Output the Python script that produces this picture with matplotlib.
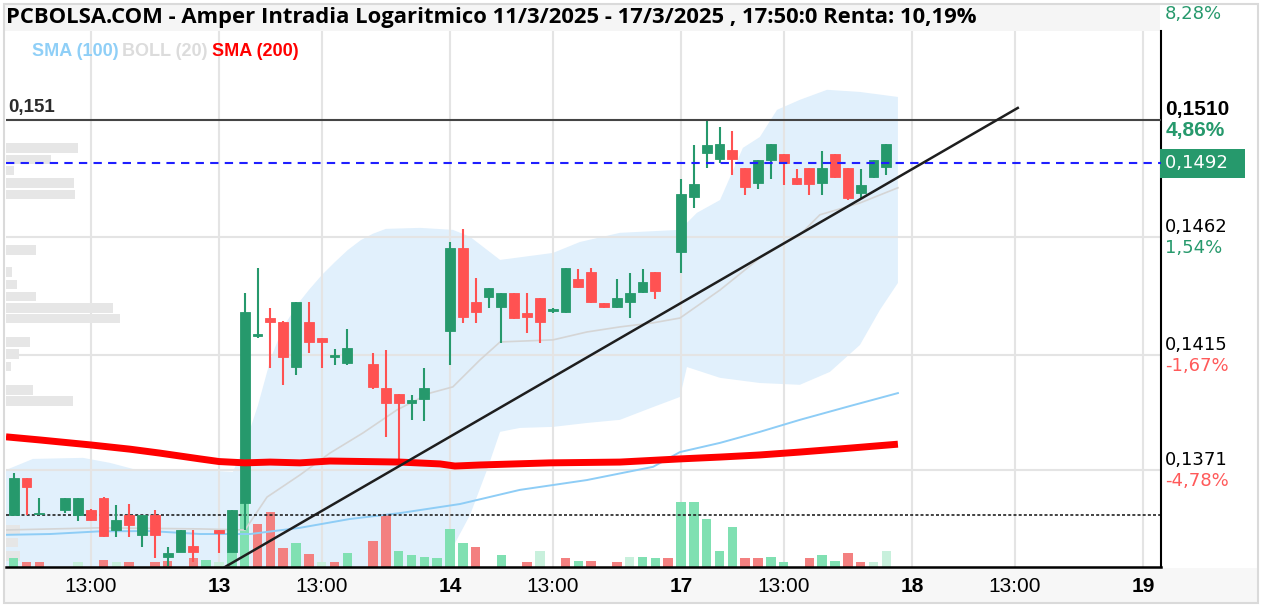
import matplotlib
matplotlib.use("Agg")
import numpy as np
import matplotlib.pyplot as plt
from matplotlib.patches import Rectangle
from matplotlib.ticker import NullLocator
from matplotlib.transforms import blended_transform_factory

# session axis: each trading day takes 9 hours (9:00-18:00), weekend skipped
days = ["12", "13", "14", "17", "18", "19"]

title = "PCBOLSA.COM - Amper Intradia Logaritmico 11/3/2025 - 17/3/2025 , 17:50:0 Renta: 10,19%"

# 30 min candles
candle_time = [
    "12 10:00", "12 10:30", "12 11:00", "12 12:00", "12 12:30", "12 13:00", "12 13:30",
    "12 14:00", "12 14:30", "12 15:00", "12 15:30", "12 16:00", "12 16:30", "12 17:00",
    "13 09:00", "13 09:30", "13 10:00", "13 10:30", "13 11:00", "13 11:30", "13 12:00",
    "13 12:30", "13 13:00", "13 13:30", "13 14:00", "13 15:00", "13 15:30", "13 16:00",
    "13 16:30", "13 17:00",
    "14 09:00", "14 09:30", "14 10:00", "14 10:30", "14 11:00", "14 11:30", "14 12:00",
    "14 12:30", "14 13:00", "14 13:30", "14 14:00", "14 14:30", "14 15:00", "14 15:30",
    "14 16:00", "14 16:30", "14 17:00",
    "17 09:00", "17 09:30", "17 10:00", "17 10:30", "17 11:00", "17 11:30", "17 12:00",
    "17 12:30", "17 13:00", "17 13:30", "17 14:00", "17 14:30", "17 15:00", "17 15:30",
    "17 16:00", "17 16:30", "17 17:00",
]
c_open = [
    0.13541, 0.13678, 0.13545, 0.13560, 0.13541, 0.13560, 0.13603, 0.13485, 0.13541, 0.13467,
    0.13541, 0.13385, 0.13404, 0.13426,
    0.13485, 0.13404, 0.13586, 0.14227, 0.14297, 0.14283, 0.14107, 0.14283, 0.14218, 0.14144,
    0.14120, 0.14117, 0.14023, 0.13999, 0.13967, 0.13980,
    0.14244, 0.14575, 0.14362, 0.14379, 0.14340, 0.14397, 0.14318, 0.14375, 0.14325, 0.14322,
    0.14452, 0.14481, 0.14358, 0.14340, 0.14362, 0.14401, 0.14481,
    0.14561, 0.14781, 0.14962, 0.14937, 0.14975, 0.14900, 0.14839, 0.14934, 0.14959, 0.14859,
    0.14900, 0.14839, 0.14959, 0.14900, 0.14798, 0.14863, 0.14904,
]
c_high = [
    0.13700, 0.13680, 0.13605, 0.13605, 0.13605, 0.13563, 0.13608, 0.13578, 0.13582, 0.13541,
    0.13560, 0.13422, 0.13485, 0.13485,
    0.13485, 0.13560, 0.14397, 0.14495, 0.14337, 0.14285, 0.14362, 0.14362, 0.14219, 0.14175,
    0.14253, 0.14161, 0.14173, 0.14001, 0.13997, 0.14100,
    0.14598, 0.14652, 0.14455, 0.14416, 0.14397, 0.14397, 0.14395, 0.14376, 0.14337, 0.14496,
    0.14491, 0.14495, 0.14358, 0.14452, 0.14477, 0.14491, 0.14481,
    0.14855, 0.14996, 0.15100, 0.15072, 0.15056, 0.14900, 0.14934, 0.15000, 0.14959, 0.14896,
    0.14900, 0.14973, 0.14959, 0.14900, 0.14896, 0.14934, 0.15000,
]
c_low = [
    0.13541, 0.13541, 0.13541, 0.13550, 0.13520, 0.13518, 0.13459, 0.13459, 0.13459, 0.13422,
    0.13381, 0.13352, 0.13403, 0.13366,
    0.13400, 0.13403, 0.13485, 0.14218, 0.14102, 0.14036, 0.14074, 0.14161, 0.14102, 0.14113,
    0.14113, 0.14020, 0.13837, 0.13736, 0.13901, 0.13898,
    0.14113, 0.14279, 0.14279, 0.14336, 0.14198, 0.14294, 0.14240, 0.14200, 0.14318, 0.14317,
    0.14416, 0.14357, 0.14337, 0.14337, 0.14296, 0.14395, 0.14371,
    0.14477, 0.14737, 0.14900, 0.14921, 0.14873, 0.14791, 0.14815, 0.14855, 0.14832, 0.14832,
    0.14791, 0.14791, 0.14861, 0.14770, 0.14777, 0.14861, 0.14873,
]
c_close = [
    0.13681, 0.13647, 0.13549, 0.13603, 0.13603, 0.13522, 0.13463, 0.13522, 0.13504, 0.13541,
    0.13467, 0.13400, 0.13485, 0.13404,
    0.13475, 0.13560, 0.14322, 0.14234, 0.14282, 0.14143, 0.14362, 0.14204, 0.14204, 0.14152,
    0.14178, 0.14027, 0.13965, 0.13965, 0.13977, 0.14023,
    0.14575, 0.14300, 0.14322, 0.14415, 0.14397, 0.14296, 0.14300, 0.14283, 0.14333, 0.14495,
    0.14419, 0.14362, 0.14340, 0.14375, 0.14397, 0.14441, 0.14405,
    0.14795, 0.14835, 0.14996, 0.15000, 0.14937, 0.14822, 0.14934, 0.15000, 0.14921, 0.14836,
    0.14836, 0.14900, 0.14863, 0.14777, 0.14832, 0.14934, 0.15000,
]

# volume (thousands of shares), g = up, r = down, p = flat
vol_time = [
    "12 10:00", "12 10:30", "12 11:00", "12 12:30", "12 13:30", "12 14:00", "12 14:30",
    "12 15:30", "12 16:00", "12 17:00", "12 17:30",
    "13 09:00", "13 09:30", "13 10:00", "13 10:30", "13 11:00", "13 11:30", "13 12:00",
    "13 12:30", "13 13:00", "13 13:30", "13 14:00", "13 15:00", "13 15:30", "13 16:00",
    "13 16:30", "13 17:00", "13 17:30",
    "14 09:00", "14 09:30", "14 10:00", "14 11:00", "14 12:00", "14 12:30", "14 13:30",
    "14 14:00", "14 14:30", "14 15:30", "14 16:00", "14 16:30", "14 17:00", "14 17:30",
    "17 09:00", "17 09:30", "17 10:00", "17 10:30", "17 11:00", "17 11:30", "17 12:00",
    "17 12:30", "17 13:00", "17 14:00", "17 14:30", "17 15:00", "17 15:30", "17 16:00",
    "17 16:30", "17 17:00",
]
vol = [
    186, 106, 106, 106, 140, 106, 106, 106, 120, 174, 140,
    106, 300, 1280, 854, 1094, 374, 474, 254, 106, 106, 274, 520, 1060, 320, 240, 206, 174,
    760, 474, 406, 240, 94, 320, 174, 126, 126, 94, 206, 206, 174, 174,
    1294, 1294, 960, 320, 806, 174, 174, 206, 94, 174, 240, 126, 286, 94, 94, 326,
]
vol_kind = list("grrprprrrrg" "pggrrrgrprgrrggggg" "grgrprgrrpggrg" "ggggrrggrggrrppg")

# indicators (x in session hours from 12/3 09:00)
sma200_x = [0.70, 2.03, 4.01, 5.53, 6.70, 8.26, 9.0, 10.01, 10.99, 12.15, 13.32, 16.05,
            17.61, 18.19, 19.17, 21.89, 24.62, 26.96, 28.52, 30.07, 31.63, 33.58, 35.45]
sma200 = [0.13836, 0.13824, 0.13805, 0.13789, 0.13774, 0.13752, 0.13742, 0.13737, 0.13740,
          0.13737, 0.13744, 0.13740, 0.13733, 0.13725, 0.13729, 0.13737, 0.13740, 0.13752,
          0.13759, 0.13767, 0.13778, 0.13793, 0.13808]
sma100_x = [0.70, 2.42, 4.36, 6.31, 8.26, 10.21, 12.15, 14.10, 16.05, 18.39, 20.72, 23.33,
            25.91, 26.96, 28.52, 30.07, 31.63, 33.58, 35.45]
sma100 = [0.13467, 0.13470, 0.13480, 0.13481, 0.13470, 0.13470, 0.13493, 0.13526, 0.13548,
          0.13582, 0.13635, 0.13672, 0.13722, 0.13778, 0.13813, 0.13855, 0.13901, 0.13954,
          0.14004]
boll_up_x = [0.70, 1.75, 3.70, 4.75, 5.65, 6.97, 8.92, 9.54, 10.01, 10.52, 11.02, 11.49,
             12.04, 12.50, 13.01, 13.52, 14.02, 14.53, 14.99, 15.50, 16.83, 18.11, 18.78,
             19.95, 22.01, 23.06, 24.62, 26.96, 27.62, 28.52, 29.41, 30.07, 30.74, 31.63,
             32.69, 33.97, 35.45]
boll_up = [0.13710, 0.13752, 0.13756, 0.13737, 0.13714, 0.13710, 0.13706, 0.13703, 0.13805,
           0.13958, 0.14140, 0.14258, 0.14349, 0.14408, 0.14468, 0.14520, 0.14568, 0.14608,
           0.14633, 0.14653, 0.14657, 0.14649, 0.14621, 0.14528, 0.14556, 0.14600, 0.14637,
           0.14649, 0.14718, 0.14770, 0.14984, 0.15029, 0.15142, 0.15184, 0.15226, 0.15217,
           0.15196]
boll_lo_x = [0.70, 8.26, 12.15, 16.05, 17.61, 17.99, 18.78, 19.44, 19.95, 20.72, 22.01,
             23.33, 24.62, 25.91, 26.96, 27.23, 28.52, 30.07, 31.63, 32.80, 33.97, 34.75,
             35.45]
boll_lo = [0.13227, 0.13190, 0.13080, 0.13153, 0.13264, 0.13400, 0.13541, 0.13710, 0.13855,
           0.13870, 0.13874, 0.13889, 0.13901, 0.13950, 0.13989, 0.14105, 0.14063, 0.14043,
           0.14036, 0.14086, 0.14191, 0.14329, 0.14436]
boll_mid_x = [0.70, 4.36, 8.26, 10.01, 10.87, 12.15, 13.32, 14.61, 15.93, 17.22, 18.11,
              19.17, 19.95, 22.01, 23.33, 24.62, 25.91, 26.96, 28.52, 30.07, 31.63, 32.41,
              33.97, 35.45]
boll_mid = [0.13485, 0.13493, 0.13489, 0.13485, 0.13608, 0.13691, 0.13774, 0.13851, 0.13939,
            0.14004, 0.14028, 0.14133, 0.14203, 0.14211, 0.14242, 0.14262, 0.14278, 0.14297,
            0.14408, 0.14536, 0.14629, 0.14710, 0.14758, 0.14820]

# volume by price (left side)
prof_price = [0.14983, 0.14936, 0.14891, 0.14840, 0.14792, 0.14568, 0.14480, 0.14429,
              0.14381, 0.14337, 0.14294, 0.14202, 0.14155, 0.14108, 0.14016, 0.13974,
              0.13485, 0.13438, 0.13388]
prof_vol = [717, 447, 80, 680, 693, 300, 57, 113, 300, 1073, 1140, 240, 133, 47, 273, 673,
            140, 120, 140]

# price levels on the right (top one only shows its percentage)
level_price = [0.15592, 0.1510, 0.1462, 0.1415, 0.1371]
level_label = ["", "0,1510", "0,1462", "0,1415", "0,1371"]
level_pct = ["8,28%", "4,86%", "1,54%", "-1,67%", "-4,78%"]
max_price = 0.1510
last_price = 0.1492
support = 0.13541
trend_x = [9.23, 40.12]
trend_y = [0.13348, 0.15150]

tick_time = ["12 13:00", "13 09:00", "13 13:00", "14 09:00", "14 13:00", "17 09:00",
             "17 13:00", "18 09:00", "18 13:00", "19 09:00"]
tick_label = ["13:00", "13", "13:00", "14", "13:00", "17", "13:00", "18", "13:00", "19"]


def tx(s):
    d, hm = s.split()
    h, m = hm.split(":")
    return days.index(d) * 9 + int(h) - 9 + int(m) / 60


GREEN = "#26996c"
RED = "#ff5252"
W, H = 1264, 608

fig = plt.figure(figsize=(12.64, 6.08), dpi=100)
fig.patch.set_facecolor("white")


def fx(px):
    return px / W


def fy(py):
    return 1 - py / H


# frame, title bar, x strip
fig.add_artist(Rectangle((fx(4), fy(31)), fx(1156), 27 / H, transform=fig.transFigure,
                         fc="#f5f5f5", ec="none", zorder=0))
fig.add_artist(Rectangle((fx(4), fy(603)), fx(1254), 35 / H, transform=fig.transFigure,
                         fc="#f7f7f7", ec="none", zorder=0))
fig.add_artist(Rectangle((fx(4), fy(603)), fx(1254), 599 / H, transform=fig.transFigure,
                         fc="none", ec="#dadada", lw=1.5, zorder=5))

rect = [fx(6), 41 / H, fx(1155), 536 / H]
ax_bg = fig.add_axes(rect)
ax_prof = fig.add_axes(rect, sharey=ax_bg)
ax_vol = fig.add_axes(rect, sharex=ax_bg)
ax = fig.add_axes(rect, sharex=ax_bg, sharey=ax_bg)

ax_bg.set_yscale("log")
ax_bg.set_ylim(0.13348, 0.15475)
ax_bg.set_xlim(0.70, 45.70)
ax_prof.set_xlim(0, 11550)
ax_vol.set_ylim(0, 10720)

for a in (ax_bg, ax_prof, ax_vol, ax):
    a.yaxis.set_major_locator(NullLocator())
    a.yaxis.set_minor_locator(NullLocator())
    for s in a.spines.values():
        s.set_visible(False)
for a in (ax_prof, ax_vol, ax):
    a.patch.set_visible(False)
ax_prof.xaxis.set_major_locator(NullLocator())

# background: bollinger band + grid
ax_bg.fill(np.r_[boll_up_x, boll_lo_x[::-1]], np.r_[boll_up, boll_lo[::-1]],
           color="#e1f0fc", lw=0, zorder=1)
for t in tick_time:
    ax_bg.axvline(tx(t), color="#e4e4e4", lw=1.5, zorder=2)
for p in level_price[2:]:
    ax_bg.axhline(p, color="#e4e4e4", lw=1.5, zorder=2)

# volume profile
ax_prof.barh(prof_price, prof_vol, height=np.array(prof_price) * 0.0026, left=0,
             color="#e6e6e6", lw=0)

# volume
vcol = {"g": "#80e0b2", "r": "#f38080", "p": "#c8f0dc"}
ax_vol.bar([tx(t) for t in vol_time], vol, width=0.37,
           color=[vcol[k] for k in vol_kind], lw=0)

# price
ax.plot(boll_mid_x, boll_mid, color="#d5d5d5", lw=1.2, zorder=2)
ax.plot(sma100_x, sma100, color="#8ecdf6", lw=1.4, zorder=2)
ax.axhline(support, color="#222222", lw=1.2, ls=(0, (1.8, 1.3)), zorder=2)

cx = np.array([tx(t) for t in candle_time])
o = np.array(c_open)
c = np.array(c_close)
up = c >= o
col = np.where(up, GREEN, RED)
ax.vlines(cx, c_low, c_high, colors=col, lw=1.5, zorder=3)
ax.bar(cx, np.abs(c - o), bottom=np.minimum(o, c), width=0.38, color=col,
       edgecolor=col, lw=0.6, zorder=3)

ax.plot(sma200_x, sma200, color="#ff0000", lw=5.0, solid_capstyle="butt", zorder=4)
ax.axhline(max_price, color="#444444", lw=1.5, zorder=4)
ax.axhline(last_price, color="#1f1fff", lw=1.5, ls=(0, (4, 3)), zorder=4)
ax.plot(trend_x, trend_y, color="#1e1e1e", lw=1.8, zorder=5)

# axes frame
ax.spines["right"].set_visible(True)
ax.spines["bottom"].set_visible(True)
ax.spines["right"].set_color("black")
ax.spines["bottom"].set_color("black")
ax.spines["right"].set_linewidth(1.5)
ax.spines["bottom"].set_linewidth(1.8)

ax.set_xticks([tx(t) for t in tick_time])
ax.set_xticklabels(tick_label)
ax.tick_params(axis="x", length=0, pad=7.5, labelsize=15)
for a in (ax_bg, ax_vol):
    a.tick_params(axis="x", length=0, labelbottom=False)
for lab in ax.get_xticklabels():
    lab.set_fontfamily("Liberation Sans")
    if ":" not in lab.get_text():
        lab.set_fontweight("bold")

# right labels
tr = blended_transform_factory(ax.transAxes, ax.transData)
for p, lab, pct in zip(level_price, level_label, level_pct):
    bold = p == max_price
    pc = GREEN if not pct.startswith("-") else "#ff5a5a"
    kw = dict(family="Liberation Sans", fontsize=15, fontweight="bold") if bold else \
        dict(family="DejaVu Sans", fontsize=13)
    if lab:
        ax.annotate(lab, (1, p), xycoords=tr, xytext=(3, 7.2), textcoords="offset points",
                    ha="left", va="center", color="black", annotation_clip=False, **kw)
    ax.annotate(pct, (1, p), xycoords=tr, xytext=(3, -7.6), textcoords="offset points",
                ha="left", va="center", color=pc, annotation_clip=False, **kw)
ax.annotate("0,1492  ", (1, last_price), xycoords=tr, xytext=(3, 0),
            textcoords="offset points", ha="left", va="center", color="white",
            family="DejaVu Sans", fontsize=13, annotation_clip=False,
            bbox=dict(boxstyle="square,pad=0.3", fc=GREEN, ec="none"))
ax.annotate("0,151", (0, max_price), xycoords=tr, xytext=(1.5, 9),
            textcoords="offset points", ha="left", va="center", color="#2b2b2b",
            family="Liberation Sans", fontsize=13.5, fontweight="bold")

# title and legend
fig.text(fx(6), fy(18), title, fontsize=15.8, fontweight="bold", family="Open Sans",
         va="center", ha="left")
leg = [("SMA (100)", "#8fcff7", 32), ("BOLL (20)", "#dcdcdc", 122), ("SMA (200)", "#ff0000", 212)]
for txt, cc, px in leg:
    fig.text(fx(px), fy(52), txt, color=cc, fontsize=13, fontweight="bold",
             family="Liberation Sans", va="center", ha="left")

fig.savefig("out.png", dpi=100)
